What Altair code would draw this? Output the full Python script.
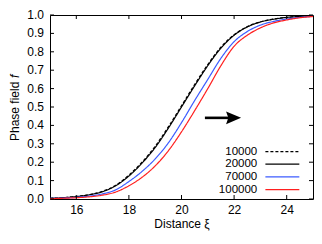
import altair as alt
import pandas as pd

# ---- data ----
xi = [15.0, 15.5, 16.0, 16.5, 17.0, 17.5, 18.0, 18.5, 19.0, 19.5, 20.0,
      20.5, 21.0, 21.5, 22.0, 22.5, 23.0, 23.5, 24.0, 24.5, 25.0]
f_10000 = [0.004, 0.007, 0.014, 0.024, 0.042, 0.075, 0.130, 0.200, 0.287, 0.392, 0.507,
           0.622, 0.731, 0.825, 0.893, 0.937, 0.963, 0.978, 0.987, 0.992, 0.995]
f_20000 = [0.004, 0.007, 0.013, 0.023, 0.040, 0.072, 0.125, 0.195, 0.280, 0.385, 0.500,
           0.615, 0.725, 0.820, 0.890, 0.935, 0.962, 0.977, 0.987, 0.992, 0.995]
f_70000 = [0.003, 0.005, 0.009, 0.016, 0.028, 0.050, 0.095, 0.150, 0.218, 0.305, 0.415,
           0.535, 0.650, 0.765, 0.855, 0.910, 0.945, 0.965, 0.978, 0.987, 0.993]
f_100000 = [0.002, 0.004, 0.007, 0.012, 0.021, 0.038, 0.072, 0.118, 0.180, 0.262, 0.365,
            0.480, 0.600, 0.725, 0.830, 0.890, 0.930, 0.957, 0.973, 0.985, 0.992]
series = ["10000", "20000", "70000", "100000"]
series_colors = ["#000000", "#000000", "#3b5bff", "#ff1f1f"]
series_dashes = [[3, 2], [1, 0], [1, 0], [1, 0]]

x_ticks = [16, 18, 20, 22, 24]
y_ticks = [0.0, 0.1, 0.2, 0.3, 0.4, 0.5, 0.6, 0.7, 0.8, 0.9, 1.0]

# legend placement (data units) and arrow annotation
legend_f = [0.258, 0.189, 0.12, 0.051]
legend_text_xi = 22.88
legend_line_xi = [23.19, 24.48]
arrow_xi = [20.89, 21.85]
arrow_head_xi = 21.98
arrow_f = 0.441

rows = []
for name, vals in zip(series, [f_10000, f_20000, f_70000, f_100000]):
    for x, v in zip(xi, vals):
        rows.append({"xi": x, "f": v, "series": name})
df = pd.DataFrame(rows)

W, H = 263, 184
FONT = "Liberation Sans"
xscale = alt.Scale(domain=[15, 25], nice=False, zero=False)
yscale = alt.Scale(domain=[0, 1], nice=False)
cscale = alt.Scale(domain=series, range=series_colors)
dscale = alt.Scale(domain=series, range=series_dashes)

lines = alt.Chart(df).mark_line(strokeWidth=1.2, interpolate="monotone").encode(
    x=alt.X("xi:Q", scale=xscale,
            axis=alt.Axis(values=x_ticks, format="d", title="Distance ξ",
                          labelPadding=5, titlePadding=3, labelOverlap=False)),
    y=alt.Y("f:Q", scale=yscale,
            axis=alt.Axis(values=y_ticks, title=None, labels=False)),
    color=alt.Color("series:N", scale=cscale, legend=None),
    strokeDash=alt.StrokeDash("series:N", scale=dscale, legend=None),
    detail="series:N",
)

ydf = pd.DataFrame({"f": y_ticks})
xdf = pd.DataFrame({"xi": x_ticks})
ylabels = alt.Chart(ydf).mark_text(align="right", baseline="middle", dx=-6, font=FONT,
                                   fontSize=12, color="black").encode(
    y=alt.Y("f:Q", scale=yscale), x=alt.value(0),
    text=alt.Text("f:Q", format=".1f"))
ytick_l = alt.Chart(ydf).mark_rule(color="black", strokeWidth=1).encode(
    y=alt.Y("f:Q", scale=yscale), x=alt.value(0), x2=alt.value(4))
ytick_r = alt.Chart(ydf).mark_rule(color="black", strokeWidth=1).encode(
    y=alt.Y("f:Q", scale=yscale), x=alt.value(W), x2=alt.value(W - 4))
xtick_b = alt.Chart(xdf).mark_rule(color="black", strokeWidth=1).encode(
    x=alt.X("xi:Q", scale=xscale), y=alt.value(H), y2=alt.value(H - 4))
xtick_t = alt.Chart(xdf).mark_rule(color="black", strokeWidth=1).encode(
    x=alt.X("xi:Q", scale=xscale), y=alt.value(0), y2=alt.value(4))

ldf = pd.DataFrame({"series": series, "f": legend_f,
                    "xi": [legend_text_xi] * 4,
                    "xb": [legend_line_xi[1]] * 4,
                    "xa": [legend_line_xi[0]] * 4})
leg_text = alt.Chart(ldf).mark_text(align="right", baseline="middle", font=FONT,
                                    fontSize=11.5, color="black").encode(
    x=alt.X("xi:Q", scale=xscale),
    y=alt.Y("f:Q", scale=yscale),
    text="series:N")
leg_line = alt.Chart(ldf).mark_rule(strokeWidth=1.2).encode(
    x=alt.X("xa:Q", scale=xscale), x2="xb:Q",
    y=alt.Y("f:Q", scale=yscale),
    color=alt.Color("series:N", scale=cscale, legend=None),
    strokeDash=alt.StrokeDash("series:N", scale=dscale, legend=None))

adf = pd.DataFrame({"xi": arrow_xi, "f": [arrow_f, arrow_f]})
arrow_shaft = alt.Chart(adf).mark_line(color="black", strokeWidth=2.6).encode(
    x=alt.X("xi:Q", scale=xscale), y=alt.Y("f:Q", scale=yscale))
hdf = pd.DataFrame({"xi": [arrow_head_xi], "f": [arrow_f]})
arrow_head = alt.Chart(hdf).mark_point(
    shape="M-1,-0.85L1,0L-1,0.85L-0.7,0Z", filled=True, color="black", opacity=1,
    size=225, strokeWidth=0).encode(
    x=alt.X("xi:Q", scale=xscale), y=alt.Y("f:Q", scale=yscale))

one = pd.DataFrame({"a": [0]})
ytitle1 = alt.Chart(one).mark_text(angle=270, align="left", baseline="middle", font=FONT,
                                   fontSize=12, color="black").encode(
    x=alt.value(-35), y=alt.value(126), text=alt.value("Phase field"))
ytitle2 = alt.Chart(one).mark_text(angle=270, align="left", baseline="middle", font=FONT,
                                   fontSize=12, fontStyle="italic", color="black").encode(
    x=alt.value(-35), y=alt.value(63), text=alt.value("f"))

chart = alt.layer(
    lines, ylabels, ytick_l, ytick_r, xtick_b, xtick_t, leg_text, leg_line,
    arrow_shaft, arrow_head, ytitle1, ytitle2
).properties(
    width=W, height=H,
    autosize=alt.AutoSizeParams(type="none"),
    padding={"left": 42, "top": 7, "right": 1, "bottom": 32},
).configure_view(
    stroke="black", strokeWidth=1
).configure_axis(
    ticks=False, domain=False, grid=False, labelOverlap=False,
    labelFont=FONT, labelFontSize=12, labelColor="black",
    titleFont=FONT, titleFontSize=12, titleColor="black", titleFontWeight="normal"
)

chart.save("out.html", embed_options={"renderer": "svg", "actions": False})
